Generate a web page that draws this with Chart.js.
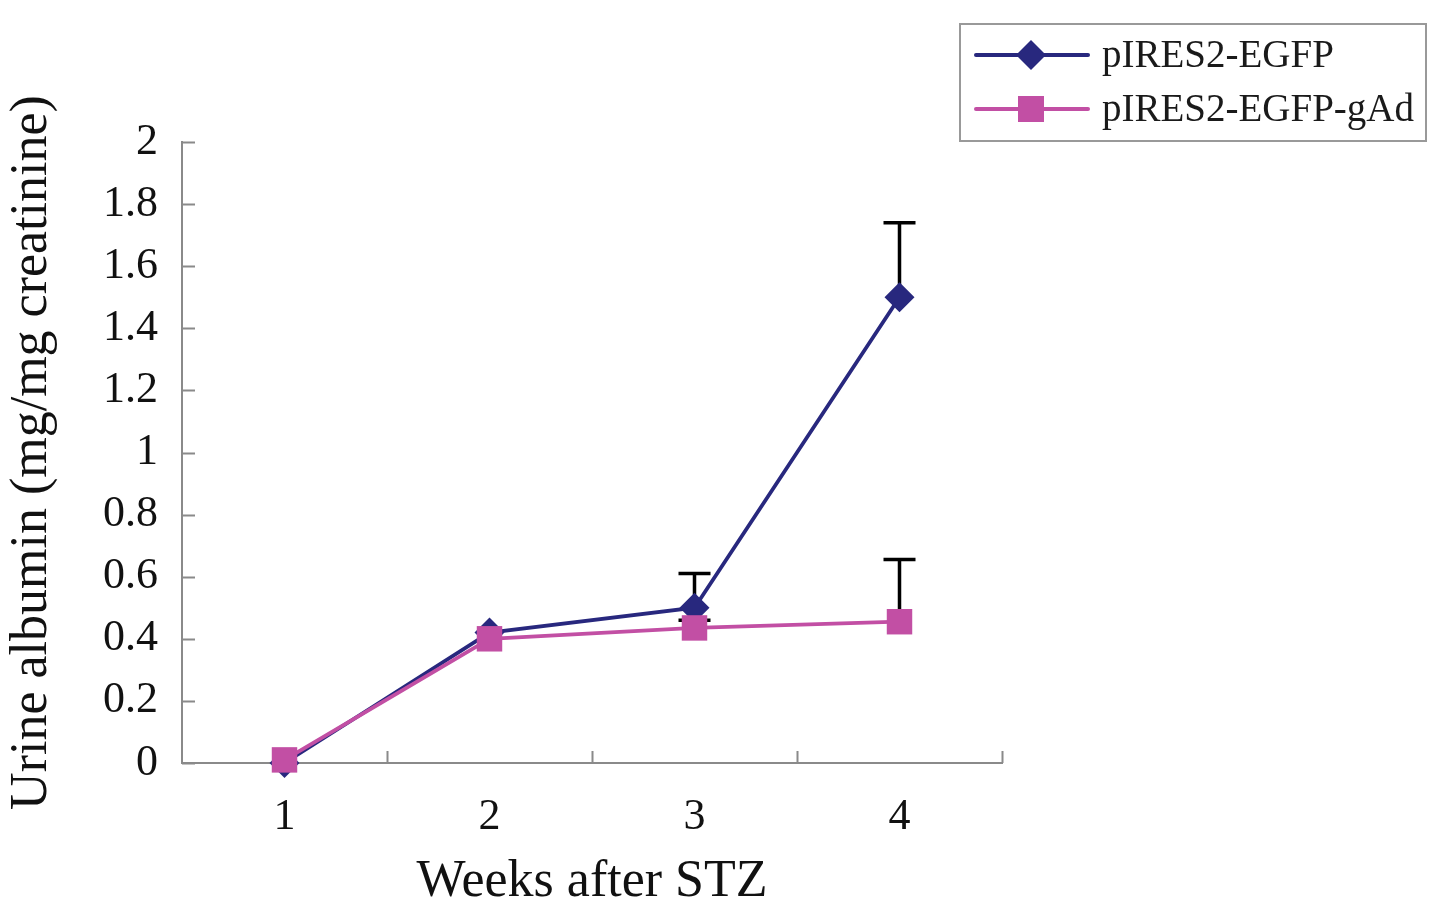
<!DOCTYPE html>
<html>
<head>
<meta charset="utf-8">
<script src="https://cdn.jsdelivr.net/npm/chart.js@4/dist/chart.umd.min.js"></script>
<style>
  html, body { margin: 0; padding: 0; background: #fff; }
  #wrap { width: 1441px; height: 921px; }
</style>
</head>
<body>
<div id="wrap"><canvas id="grafico" width="1441" height="921"></canvas></div>
<script>
// datos
const semanas = ['1', '2', '3', '4']
const egfpValores = [0, 0.42, 0.5, 1.5]
const gadValores = [0.01, 0.4, 0.435, 0.455]
const egfpErrArriba = [null, null, 0.11, 0.24]
const egfpErrAbajo = [null, null, 0.04, null]
const gadErrArriba = [null, null, null, 0.2]
const gadErrAbajo = [null, null, null, null]
const yTicks = [0, 0.2, 0.4, 0.6, 0.8, 1, 1.2, 1.4, 1.6, 1.8, 2]

const AZUL = '#28287e'
const ROSA = '#c24fa4'
const GRIS = '#8a8a8a'
const FUENTE = "'Liberation Serif', 'Times New Roman', serif"

// barras de error (debajo de los marcadores)
const barrasError = {
  id: 'barrasError',
  beforeDatasetsDraw(chart) {
    const { ctx, scales: { x, y } } = chart
    ctx.save()
    ctx.strokeStyle = '#000'
    ctx.lineWidth = 3.5
    chart.data.datasets.forEach((ds) => {
      ds.data.forEach((v, i) => {
        const px = x.getPixelForValue(i)
        const py = y.getPixelForValue(v)
        const dibujar = (e, signo) => {
          if (e == null) return
          const pe = y.getPixelForValue(v + signo * e)
          ctx.beginPath()
          ctx.moveTo(px, py)
          ctx.lineTo(px, pe)
          ctx.moveTo(px - 16, pe)
          ctx.lineTo(px + 16, pe)
          ctx.stroke()
        }
        dibujar(ds.errArriba[i], 1)
        dibujar(ds.errAbajo[i], -1)
      })
    })
    ctx.restore()
  },
}

// marcas de los ejes hacia adentro + leyenda con recuadro
const extras = {
  id: 'extras',
  afterDraw(chart) {
    const { ctx, chartArea, scales: { x, y } } = chart
    ctx.save()
    ctx.strokeStyle = GRIS
    ctx.lineWidth = 2
    ctx.beginPath()
    y.ticks.forEach((t) => {
      const py = Math.round(y.getPixelForValue(t.value)) + 0.5
      ctx.moveTo(chartArea.left, py)
      ctx.lineTo(chartArea.left + 13, py)
    })
    const paso = (chartArea.right - chartArea.left) / semanas.length
    for (let i = 1; i <= semanas.length; i++) {
      const px = Math.round(chartArea.left + i * paso) + 0.5
      ctx.moveTo(px, chartArea.bottom)
      ctx.lineTo(px, chartArea.bottom - 12)
    }
    ctx.stroke()

    // leyenda
    ctx.strokeStyle = '#999'
    ctx.lineWidth = 2
    ctx.strokeRect(960, 24, 466, 117)
    const filas = [
      { y: 55, color: AZUL, forma: 'rombo', texto: chart.data.datasets[0].label },
      { y: 109, color: ROSA, forma: 'cuadro', texto: chart.data.datasets[1].label },
    ]
    filas.forEach((f) => {
      ctx.strokeStyle = f.color
      ctx.fillStyle = f.color
      ctx.lineWidth = 4
      ctx.lineCap = 'round'
      ctx.beginPath()
      ctx.moveTo(976, f.y)
      ctx.lineTo(1088, f.y)
      ctx.stroke()
      ctx.beginPath()
      if (f.forma === 'rombo') {
        ctx.moveTo(1031, f.y - 15)
        ctx.lineTo(1046, f.y)
        ctx.lineTo(1031, f.y + 15)
        ctx.lineTo(1016, f.y)
        ctx.closePath()
      } else {
        ctx.rect(1018, f.y - 13, 26, 26)
      }
      ctx.fill()
      ctx.fillStyle = '#1a1a1a'
      ctx.font = '39px ' + FUENTE
      ctx.textBaseline = 'middle'
      ctx.textAlign = 'left'
      ctx.fillText(f.texto, 1102, f.y + 2)
    })
    ctx.restore()
  },
}

const chart = new Chart(document.getElementById('grafico'), {
  type: 'line',
  data: {
    labels: semanas,
    datasets: [
      {
        label: 'pIRES2-EGFP',
        data: egfpValores,
        errArriba: egfpErrArriba,
        errAbajo: egfpErrAbajo,
        borderColor: AZUL,
        backgroundColor: AZUL,
        borderWidth: 3.8,
        pointStyle: 'rectRot',
        pointRadius: 15,
        pointBorderWidth: 0,
        tension: 0,
        clip: false,
        order: 2,
      },
      {
        label: 'pIRES2-EGFP-gAd',
        data: gadValores,
        errArriba: gadErrArriba,
        errAbajo: gadErrAbajo,
        borderColor: ROSA,
        backgroundColor: ROSA,
        borderWidth: 3.8,
        pointStyle: 'rect',
        pointRadius: 18,
        pointBorderWidth: 0,
        tension: 0,
        clip: false,
        order: 1,
      },
    ],
  },
  options: {
    responsive: false,
    animation: false,
    devicePixelRatio: 1,
    layout: { padding: { top: 142, right: 439, left: 0, bottom: 0 } },
    plugins: {
      legend: { display: false },
      tooltip: { enabled: false },
    },
    scales: {
      x: {
        offset: true,
        grid: { display: false, drawTicks: false },
        border: { display: true, color: GRIS, width: 2 },
        ticks: {
          color: '#111',
          font: { family: FUENTE, size: 44 },
          padding: 28,
        },
        title: {
          display: true,
          text: 'Weeks after STZ',
          color: '#111',
          font: { family: FUENTE, size: 52 },
          padding: { top: 0, bottom: 7 },
        },
        afterFit(scale) {
          scale.height = 158
        },
      },
      y: {
        min: 0,
        max: 2,
        grid: { display: false, drawTicks: false },
        border: { display: true, color: GRIS, width: 2 },
        afterBuildTicks(scale) {
          scale.ticks = yTicks.map((v) => ({ value: v }))
        },
        ticks: {
          color: '#111',
          font: { family: FUENTE, size: 44 },
          padding: 24,
          callback: (v) => String(Number(v.toFixed(1))),
        },
        title: {
          display: true,
          text: 'Urine albumin (mg/mg creatinine)',
          color: '#111',
          font: { family: FUENTE, size: 52 },
          padding: { top: 1, bottom: 0 },
        },
        afterFit(scale) {
          scale.width = 182
        },
      },
    },
  },
  plugins: [barrasError, extras],
})
</script>
</body>
</html>
